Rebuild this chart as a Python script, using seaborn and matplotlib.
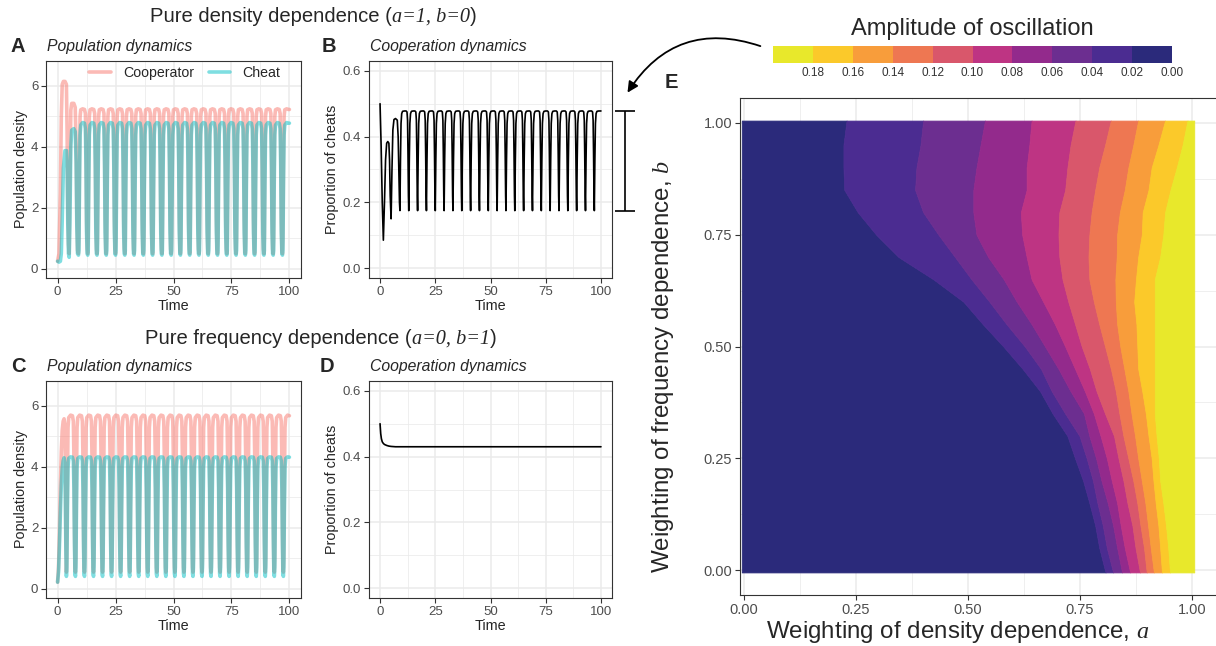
import numpy as np
import pandas as pd
import seaborn as sns
import matplotlib.pyplot as plt
from matplotlib.colors import ListedColormap
from matplotlib.lines import Line2D
from matplotlib.patches import FancyArrowPatch
from matplotlib.ticker import MultipleLocator
from matplotlib.offsetbox import TextArea, HPacker, AnchoredOffsetbox

# ---------------- A / B : pure density dependence (a=1, b=0) ----------------
# transient part
a_t0 = [0, 0.6, 1.2, 1.6, 2.0, 2.5, 3.2, 3.8, 4.1, 4.4, 4.7, 5.0, 5.3, 5.7, 6.1, 7.0, 7.6, 8.0, 8.3, 8.6]
a_coop0 = [0.25, 0.5, 2.5, 5.0, 6.05, 6.15, 6.15, 6.05, 4.5, 2.0, 0.8, 0.5, 2.5, 5.2, 5.43, 5.43, 5.3, 4.0, 1.8, 0.6]
a_cheat0 = [0.25, 0.22, 0.25, 0.5, 1.6, 3.3, 3.88, 3.88, 3.5, 1.5, 0.5, 0.38, 1.5, 4.0, 4.55, 4.6, 4.5, 3.5, 1.4, 0.5]
# one steady cycle (phase 0 = trough), repeated every a_period
a_phase = [0.0, 0.2, 0.45, 0.7, 1.0, 1.8, 2.6, 3.0, 3.25, 3.5, 3.75]
a_coop_cyc = [0.5, 1.0, 3.5, 5.0, 5.22, 5.25, 5.23, 5.1, 4.0, 1.6, 0.65]
a_cheat_cyc = [0.45, 0.6, 2.8, 4.4, 4.72, 4.8, 4.78, 4.6, 3.4, 1.2, 0.5]
a_first, a_period, a_ncyc = 9.0, 4.0, 23

b_t0 = [0, 0.5, 1.0, 1.5, 2.0, 2.5, 3.0, 3.5, 4.0, 4.3, 4.6, 5.0, 5.4, 5.8, 6.3, 7.0, 7.8, 8.2, 8.5, 8.8]
b_prop0 = [0.5, 0.37, 0.2, 0.085, 0.2, 0.33, 0.38, 0.385, 0.38, 0.33, 0.22, 0.15, 0.3, 0.42, 0.452, 0.455, 0.45, 0.40, 0.30, 0.20]
b_phase = [0.0, 0.25, 0.5, 0.8, 1.2, 2.0, 2.8, 3.2, 3.45, 3.65, 3.85]
b_prop_cyc = [0.175, 0.33, 0.44, 0.47, 0.477, 0.478, 0.478, 0.475, 0.45, 0.35, 0.22]
b_range = [0.175, 0.478]   # amplitude bar next to panel B

# ---------------- C / D : pure frequency dependence (a=0, b=1) ----------------
c_t0 = [0, 0.4, 0.8, 1.2, 1.6, 2.0, 2.4, 2.8, 3.1, 3.35, 3.6]
c_coop0 = [0.22, 0.7, 1.8, 3.3, 4.5, 5.2, 5.5, 5.58, 5.4, 4.0, 1.5]
c_cheat0 = [0.22, 0.55, 1.4, 2.5, 3.4, 3.95, 4.2, 4.3, 4.15, 3.0, 1.1]
c_phase = [0.0, 0.2, 0.45, 0.7, 1.0, 1.8, 2.6, 3.0, 3.25, 3.5, 3.7]
c_coop_cyc = [0.55, 1.0, 3.6, 5.3, 5.62, 5.7, 5.68, 5.5, 4.3, 1.8, 0.7]
c_cheat_cyc = [0.41, 0.7, 2.7, 4.0, 4.28, 4.33, 4.32, 4.2, 3.3, 1.4, 0.5]
c_first, c_period, c_ncyc = 3.8, 3.9, 25

d_time = [0, 0.3, 0.6, 1.0, 1.5, 2.0, 3.0, 4.0, 5.0, 7.0, 10, 100]
d_prop = [0.5, 0.47, 0.455, 0.445, 0.44, 0.437, 0.434, 0.432, 0.431, 0.43, 0.43, 0.43]

# ---------------- E : amplitude bands over (a, b) ----------------
b_levels = np.round(np.arange(0, 1.0001, 0.05), 2)
# a-position of each band edge (0.02, 0.04, ... 0.18) for b = 0.00 ... 1.00
edge_002 = [0.807, 0.793, 0.784, 0.771, 0.757, 0.739, 0.722, 0.689, 0.661, 0.622, 0.579, 0.533, 0.490, 0.423, 0.345, 0.295, 0.254, 0.224, 0.222, 0.222, 0.229]
edge_004 = [0.824, 0.810, 0.801, 0.789, 0.779, 0.765, 0.749, 0.717, 0.687, 0.663, 0.627, 0.586, 0.548, 0.508, 0.471, 0.434, 0.400, 0.382, 0.385, 0.394, 0.400]
edge_006 = [0.844, 0.833, 0.824, 0.812, 0.798, 0.786, 0.771, 0.759, 0.729, 0.702, 0.672, 0.642, 0.609, 0.580, 0.545, 0.519, 0.512, 0.512, 0.519, 0.528, 0.538]
edge_008 = [0.862, 0.850, 0.841, 0.833, 0.821, 0.810, 0.796, 0.781, 0.761, 0.739, 0.717, 0.694, 0.668, 0.642, 0.631, 0.621, 0.618, 0.631, 0.631, 0.637, 0.642]
edge_010 = [0.884, 0.874, 0.867, 0.856, 0.847, 0.836, 0.826, 0.806, 0.787, 0.772, 0.754, 0.739, 0.724, 0.711, 0.704, 0.702, 0.704, 0.717, 0.722, 0.729, 0.740]
edge_012 = [0.899, 0.893, 0.885, 0.878, 0.869, 0.858, 0.847, 0.838, 0.830, 0.819, 0.806, 0.793, 0.781, 0.771, 0.769, 0.771, 0.776, 0.784, 0.793, 0.806, 0.819]
edge_014 = [0.915, 0.908, 0.902, 0.896, 0.888, 0.880, 0.873, 0.865, 0.858, 0.849, 0.840, 0.833, 0.830, 0.829, 0.832, 0.833, 0.839, 0.850, 0.858, 0.869, 0.880]
edge_016 = [0.933, 0.929, 0.925, 0.919, 0.914, 0.910, 0.903, 0.897, 0.889, 0.880, 0.878, 0.876, 0.871, 0.875, 0.880, 0.888, 0.890, 0.903, 0.910, 0.925, 0.940]
edge_018 = [0.951, 0.947, 0.942, 0.936, 0.929, 0.926, 0.921, 0.917, 0.917, 0.917, 0.917, 0.917, 0.917, 0.917, 0.929, 0.936, 0.940, 0.952, 0.966, 0.979, 0.990]
band_edges = [edge_002, edge_004, edge_006, edge_008, edge_010, edge_012, edge_014, edge_016, edge_018]

amp_labels = ["0.18", "0.16", "0.14", "0.12", "0.10", "0.08", "0.06", "0.04", "0.02", "0.00"]
bar_colors = ["#E8E82B", "#FBC92A", "#F89D3B", "#EE7752", "#D9576B",
              "#BE3483", "#932A8C", "#6C2E90", "#4B2C91", "#2B2A7B"]

W, H = 1216, 646
coop_col, cheat_col = "#F8766D", "#00BFC4"
SANS = ["Liberation Sans", "DejaVu Sans"]


def periodic(t0, v0, phase, cyc, first, period, n, t_end=100):
    t, v = list(t0), list(v0)
    for k in range(n):
        for p, y in zip(phase, cyc):
            if first + k * period + p < t_end:
                t.append(first + k * period + p)
                v.append(y)
    t.append(t_end)
    v.append(v[-1])
    return t, v


def pop_frame(t0, coop0, cheat0, phase, coop_cyc, cheat_cyc, first, period, n):
    tc, vc = periodic(t0, coop0, phase, coop_cyc, first, period, n)
    th, vh = periodic(t0, cheat0, phase, cheat_cyc, first, period, n)
    return pd.concat([pd.DataFrame({"Time": tc, "Density": vc, "Type": "Cooperator"}),
                      pd.DataFrame({"Time": th, "Density": vh, "Type": "Cheat"})])


def px(x, y, w, h):
    return [x / W, 1 - (y + h) / H, w / W, h / H]


def style(ax, major, minor):
    ax.set_facecolor("white")
    for s in ax.spines.values():
        s.set_visible(True)
        s.set_color("#333333")
        s.set_linewidth(0.8)
    ax.yaxis.set_major_locator(MultipleLocator(major))
    ax.yaxis.set_minor_locator(MultipleLocator(minor))
    ax.xaxis.set_major_locator(MultipleLocator(25))
    ax.xaxis.set_minor_locator(MultipleLocator(12.5))
    ax.grid(which="major", color="#EBEBEB", lw=1.1)
    ax.grid(which="minor", color="#EBEBEB", lw=0.55)
    ax.set_axisbelow(True)
    ax.tick_params(which="major", length=3.5, width=0.8, color="#333333",
                   labelcolor="#4D4D4D", labelsize=9.5, pad=2, bottom=True, left=True)
    ax.tick_params(which="minor", length=0)
    ax.set_xlim(-5, 105)
    ax.set_xlabel("Time", fontsize=10.4, labelpad=1)


def mixed_title(x, y, pre, ital, post, size=14.6):
    sans = dict(fontsize=size, family=SANS)
    serif = dict(fontsize=size, family="Liberation Serif", style="italic")
    box = HPacker(children=[TextArea(pre, textprops=sans), TextArea(ital, textprops=serif),
                            TextArea(post, textprops=sans)], align="baseline", pad=0, sep=0)
    fig.add_artist(AnchoredOffsetbox(loc="center", child=box, frameon=False, pad=0, borderpad=0,
                                     bbox_to_anchor=(x / W, 1 - y / H), bbox_transform=fig.transFigure))


sns.set_style("white")
plt.rcParams["font.family"] = SANS
plt.rcParams["mathtext.fontset"] = "custom"
plt.rcParams["mathtext.it"] = "Liberation Serif:italic"
plt.rcParams["mathtext.rm"] = "Liberation Serif"

fig = plt.figure(figsize=(W / 100, H / 100), dpi=100)

axA = fig.add_axes(px(46, 61, 255, 217))
axB = fig.add_axes(px(369, 61, 243, 217))
axC = fig.add_axes(px(46, 381, 255, 217))
axD = fig.add_axes(px(369, 381, 243, 217))
axE = fig.add_axes(px(740, 98, 477, 497))
axCB = fig.add_axes(px(773, 46, 399, 17))

palette = {"Cooperator": coop_col, "Cheat": cheat_col}
dfA = pop_frame(a_t0, a_coop0, a_cheat0, a_phase, a_coop_cyc, a_cheat_cyc, a_first, a_period, a_ncyc)
dfC = pop_frame(c_t0, c_coop0, c_cheat0, c_phase, c_coop_cyc, c_cheat_cyc, c_first, c_period, c_ncyc)
for ax, df in [(axA, dfA), (axC, dfC)]:
    sns.lineplot(data=df, x="Time", y="Density", hue="Type", hue_order=["Cooperator", "Cheat"],
                 palette=palette, estimator=None, alpha=0.5, lw=2.6, legend=False, ax=ax)
    style(ax, 2, 1)
    ax.set_ylim(-0.3, 6.82)
    ax.set_ylabel("Population density", fontsize=10.4, labelpad=2)

handles = [Line2D([], [], color=coop_col, alpha=0.5, lw=2.6),
           Line2D([], [], color=cheat_col, alpha=0.5, lw=2.6)]
axA.legend(handles, ["Cooperator", "Cheat"], loc="center", bbox_to_anchor=(0.545, 0.945),
           ncol=2, frameon=False, fontsize=10.2, handlelength=1.5, handletextpad=0.9,
           columnspacing=1.0, borderpad=0.2)

tB, vB = periodic(b_t0, b_prop0, b_phase, b_prop_cyc, a_first, a_period, a_ncyc)
dfB = pd.DataFrame({"Time": tB, "Proportion": vB})
dfD = pd.DataFrame({"Time": d_time, "Proportion": d_prop})
for ax, df in [(axB, dfB), (axD, dfD)]:
    sns.lineplot(data=df, x="Time", y="Proportion", color="black", lw=1.2, estimator=None, ax=ax)
    style(ax, 0.2, 0.1)
    ax.set_ylim(-0.03, 0.63)
    ax.set_ylabel("Proportion of cheats", fontsize=10.4, labelpad=3)

# amplitude bar beside B
mid = np.mean(b_range)
eb = axB.errorbar([111], [mid], yerr=[[mid - b_range[0]], [b_range[1] - mid]],
                  color="black", lw=1.2, capsize=7, capthick=1.2)
for art in eb.get_children():
    art.set_clip_on(False)

# ---- panel E ----
b_draw = b_levels.copy()
b_draw[0] -= 0.005
b_draw[-1] += 0.005
band_colors = bar_colors[::-1]
left_edges = [np.full(len(b_levels), -0.005)] + [np.array(e) for e in band_edges]
right_edges = [np.array(e) for e in band_edges] + [np.full(len(b_levels), 1.005)]
for lo, hi, col in zip(left_edges, right_edges, band_colors):
    axE.fill_betweenx(b_draw, lo, hi, color=col, lw=0.6, edgecolor=col)
axE.set_xlim(-0.009, 1.0558)
axE.set_ylim(-0.0555, 1.0555)
for axis in (axE.xaxis, axE.yaxis):
    axis.set_major_locator(MultipleLocator(0.25))
    axis.set_minor_locator(MultipleLocator(0.125))
    axis.set_major_formatter(lambda v, p: f"{v:.2f}")
axE.set_facecolor("white")
axE.grid(which="major", color="#EBEBEB", lw=1.1)
axE.grid(which="minor", color="#EBEBEB", lw=0.55)
axE.set_axisbelow(True)
for s in axE.spines.values():
    s.set_visible(True)
    s.set_color("#333333")
    s.set_linewidth(0.8)
axE.tick_params(which="major", length=3.5, width=0.8, color="#333333",
                labelcolor="#4D4D4D", labelsize=10.5, pad=2, bottom=True, left=True)
axE.tick_params(which="minor", length=0)
axE.set_xlabel("Weighting of density dependence, $a$", fontsize=17.4)
axE.set_ylabel("Weighting of frequency dependence, $b$", fontsize=17.4)
axE.xaxis.set_label_coords((958 - 740) / 477, -(632 - 595) / 497)
axE.yaxis.set_label_coords(-(740 - 663) / 477, (595 - 366) / 497)
axE.xaxis.label.set_va("center")
axE.yaxis.label.set_va("center")

# ---- colour legend ----
sns.heatmap(np.arange(10).reshape(1, 10), cmap=ListedColormap(bar_colors), cbar=False,
            xticklabels=False, yticklabels=False, ax=axCB)
axCB.set_xticks(np.arange(1, 11))
axCB.set_xticklabels(amp_labels)
axCB.tick_params(axis="x", length=0, labelsize=8.5, pad=3, labelcolor="#333333", bottom=True)
fig.text(972 / W, 1 - 29 / H, "Amplitude of oscillation", ha="center", va="center", fontsize=17)

arrow = FancyArrowPatch((763 / W, 1 - 47 / H), (626 / W, 1 - 95 / H), transform=fig.transFigure,
                        connectionstyle="arc3,rad=0.4", arrowstyle="-|>", mutation_scale=16,
                        color="black", lw=1.3)
fig.patches.append(arrow)

# ---- titles and panel letters ----
mixed_title(313, 17, "Pure density dependence (", "a=1, b=0", ")")
mixed_title(321, 339, "Pure frequency dependence (", "a=0, b=1", ")")
for letter, x, y in [("A", 18, 46), ("B", 329, 46), ("C", 18, 366), ("D", 327, 366), ("E", 671, 82)]:
    fig.text(x / W, 1 - y / H, letter, ha="center", va="center", fontsize=14.5, fontweight="bold")
for label, x, y in [("Population dynamics", 47, 46), ("Cooperation dynamics", 370, 46),
                    ("Population dynamics", 47, 366), ("Cooperation dynamics", 370, 366)]:
    fig.text(x / W, 1 - y / H, label, ha="left", va="center", fontsize=11.3, style="italic")

fig.savefig("out.png", dpi=100)
